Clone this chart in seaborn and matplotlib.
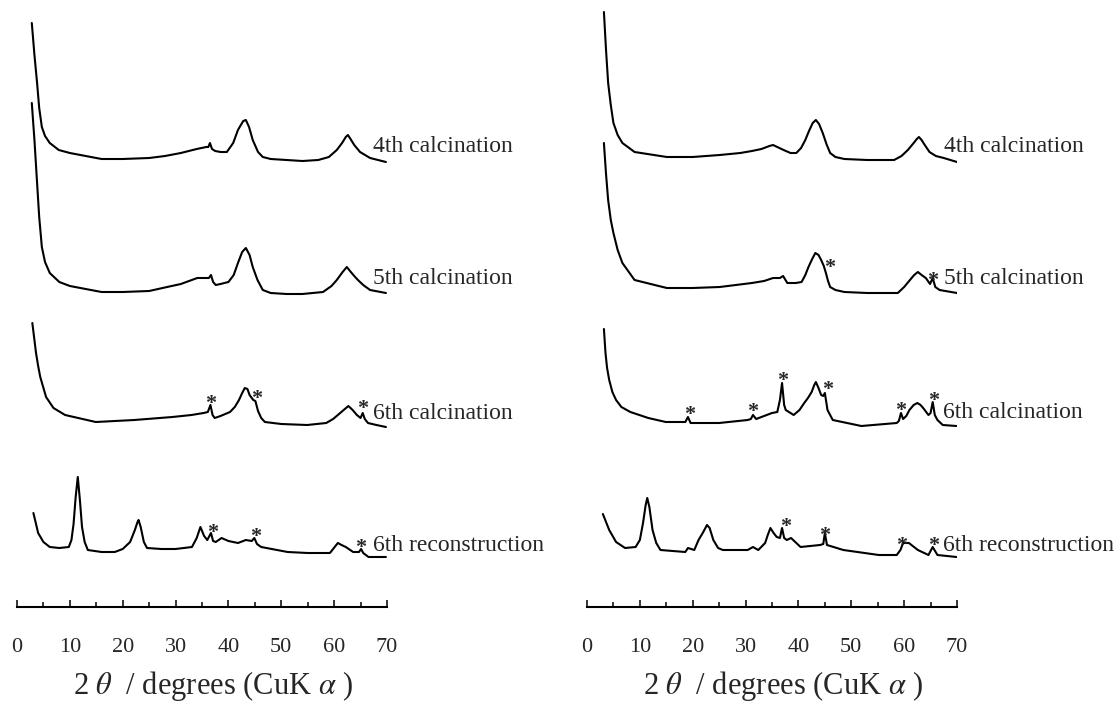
import numpy as np
import pandas as pd
import seaborn as sns
import matplotlib.pyplot as plt
from matplotlib.ticker import MultipleLocator

sns.set_style("white")
plt.rcParams["font.family"] = ["Liberation Serif", "DejaVu Serif"]
plt.rcParams["mathtext.fontset"] = "stix"

NAMES = ["4th calcination", "5th calcination", "6th calcination", "6th reconstruction"]
OFFSETS = [447, 315, 183, 55]          # stacking offset of each pattern (a.u.)
XTICKS = [0, 10, 20, 30, 40, 50, 60, 70]

# ---------------- left panel (2theta, intensity a.u.) ----------------
L4_TH = [2.8, 3.3, 3.8, 4.2, 4.7, 5.3, 6.2, 7.9, 10, 13, 16, 20, 25, 28, 31, 34, 35.8, 36.2, 36.5, 36.9,
         37.5, 38.5, 39.7, 40.9, 41.8, 42.8, 43.3, 43.9, 44.6, 45.6, 46.5, 48, 51, 54, 57, 59, 60.5, 61.5,
         62.2, 62.6, 63.1, 63.8, 64.9, 66.8, 69.8]
L4_I = [137, 105, 77, 52, 33, 24, 17, 10, 7, 4, 1, 1, 2, 4, 7, 11, 13, 13, 17, 11,
        9, 8, 8, 17, 30, 39, 40, 33, 20, 8, 3, 1, 0, -1, 0, 3, 10, 17,
        23, 25, 21, 15, 8, 2, -2]

L5_TH = [2.8, 3.3, 3.8, 4.2, 4.7, 5.3, 6.2, 8, 10, 13, 16, 20, 25, 28.4, 31, 34.1, 35.8, 36.3, 36.7, 37.1,
         37.6, 38.5, 40.0, 41.0, 41.8, 42.6, 43.3, 44.0, 44.6, 45.5, 46.5, 48, 51, 54, 57.9, 59.5, 60.5,
         61.6, 62.4, 63.0, 63.8, 64.5, 65.5, 66.8, 69.8]
L5_I = [189, 152, 109, 75, 45, 30, 19, 10, 6, 3, 0, 0, 1, 5, 8, 14, 14, 14, 17, 10,
        7, 8, 10, 17, 29, 40, 44, 37, 25, 12, 2, -1, -2, -2, 0, 6, 12,
        20, 25, 21, 16, 12, 7, 2, -1]

L6C_TH = [2.9, 3.6, 4.0, 4.4, 5.5, 6.9, 9.1, 14.9, 22.2, 29.4, 33, 35.3, 36.1, 36.6, 37.0, 37.4, 38.5,
          40.3, 41.2, 42.0, 42.6, 43.1, 43.6, 44.0, 44.7, 45.1, 45.6, 46.2, 46.9, 50, 54.9, 58.5, 59.8,
          60.7, 61.8, 62.7, 63.5, 64.3, 65.0, 65.4, 65.8, 66.4, 68, 69.8]
L6C_I = [101, 71, 58, 47, 27, 16, 9, 2, 4, 7, 9, 11, 12, 19, 9, 6, 8,
         12, 17, 24, 31, 36, 35, 29, 24, 23, 13, 6, 2, 0, -1, 1, 5,
         9, 14, 18, 14, 9, 6, 11, 5, 1, -1, -3]

L6R_TH = [3.1, 3.6, 4, 5, 6.2, 8, 9.8, 10.3, 10.7, 11.1, 11.5, 11.9, 12.3, 12.8, 13.4, 16, 18.5, 20,
          21.4, 22.3, 22.8, 23.0, 23.4, 24.0, 24.6, 27.3, 30, 33.1, 34, 34.7, 35.4, 36, 36.7, 37.1, 37.6,
          38.7, 40, 41.8, 43.3, 44.4, 44.9, 45.4, 46.2, 51.2, 55, 59.2, 60.1, 60.7, 61.4, 62.2, 63.6,
          64.7, 65.1, 65.5, 66.5, 69.8]
L6R_I = [39, 28, 19, 10, 5, 4, 5, 12, 28, 55, 75, 52, 25, 10, 2, 0, 0, 3,
         10, 22, 30, 32, 25, 10, 4, 3, 3, 5, 14, 25, 16, 12, 19, 11, 10,
         14, 11, 9, 12, 11, 14, 8, 5, 0, -1, -1, 5, 9, 7, 5, 0,
         0, 3, -1, -5, -5]

# ---------------- right panel ----------------
R4_TH = [3.2, 3.6, 4.0, 4.5, 5.0, 5.8, 6.7, 9.0, 15.1, 20, 25.1, 29, 31.2, 33, 34.5, 35.2, 36.0, 37.2,
         38.5, 39.6, 40.5, 41.3, 42.0, 42.7, 43.3, 43.9, 44.6, 45.3, 46.0, 47, 48.7, 53, 58.1, 59.5,
         60.7, 61.8, 62.4, 62.8, 63.3, 63.9, 64.8, 66, 67.5, 70.0]
R4_I = [148, 110, 77, 55, 37, 25, 17, 8, 3, 3, 5, 7, 9, 11, 14, 15, 13, 10,
        7, 7, 12, 20, 29, 37, 40, 36, 27, 16, 7, 3, 1, 0, 0, 4,
        10, 17, 21, 23, 20, 15, 8, 4, 2, -2]

R5_TH = [3.2, 3.6, 4.0, 4.5, 5.0, 5.8, 6.7, 9.0, 15.1, 20, 25.1, 31.2, 33.5, 35.2, 36.5, 37.1, 37.9,
         39.5, 40.6, 41.3, 41.9, 42.6, 43.2, 43.8, 44.3, 44.8, 45.2, 45.6, 46.0, 47, 48.7, 53, 58.8,
         60.0, 61.1, 61.9, 62.6, 63.3, 64.1, 64.9, 65.4, 65.9, 66.7, 70.0]
R5_I = [149, 118, 92, 72, 59, 42, 29, 12, 4, 4, 5, 9, 11, 14, 14, 16, 9,
        9, 10, 17, 25, 33, 39, 37, 32, 26, 19, 11, 5, 2, 0, -1, -1,
        5, 12, 17, 20, 17, 14, 8, 14, 5, 2, -1]

R6C_TH = [3.2, 3.5, 3.8, 4.2, 4.8, 5.5, 6.5, 8.2, 11.6, 14.9, 18.6, 19.1, 19.6, 25, 30.4, 31.0, 31.4,
          32, 35, 36, 36.5, 36.9, 37.3, 37.6, 39.1, 40.2, 41.1, 41.8, 42.5, 43.0, 43.3, 43.8, 44.3,
          44.7, 45.0, 45.5, 46.5, 51.9, 58.6, 59.0, 59.4, 59.8, 60.4, 61.0, 61.8, 62.5, 63.1, 63.6,
          64.6, 65.0, 65.4, 65.8, 66.3, 67.3, 69.9]
R6C_I = [95, 71, 56, 44, 32, 24, 17, 12, 6, 2, 2, 7, 1, 1, 4, 5, 9,
         5, 11, 12, 24, 41, 19, 14, 9, 14, 21, 26, 32, 39, 42, 36, 29,
         28, 31, 14, 4, -2, 1, 3, 11, 5, 8, 14, 19, 21, 19, 16,
         9, 11, 22, 9, 4, -1, -2]

R6R_TH = [3.0, 3.6, 4.2, 5.5, 7.2, 9.2, 10.0, 10.6, 11.1, 11.4, 11.8, 12.4, 13.1, 13.9, 18.6, 19.1,
          20.3, 21.1, 22.0, 22.7, 23.2, 23.9, 24.8, 25.7, 30.4, 31.4, 32.4, 33.7, 34.2, 34.7, 35.3,
          35.9, 36.5, 36.9, 37.3, 37.8, 38.6, 40.4, 44.1, 44.7, 45, 45.4, 48.5, 55.2, 58.6, 59.3,
          59.8, 60.9, 62.6, 64.6, 65.4, 66.3, 69.9]
R6R_I = [38, 30, 22, 10, 4, 5, 12, 29, 47, 54, 45, 22, 9, 2, 0, 4,
         2, 12, 20, 27, 24, 12, 4, 2, 2, 5, 2, 9, 17, 24, 19,
         15, 14, 24, 14, 12, 14, 5, 7, 8, 19, 7, 2, -3, -3, 2,
         9, 9, 2, -3, 5, -3, -5]

# asterisk markers (2theta, intensity a.u.)
L6C_STAR_TH, L6C_STAR_I = [36.6, 45.3, 65.4], [28, 33, 23]
L6R_STAR_TH, L6R_STAR_I = [37.1, 45.1, 65.1], [27, 23, 12]
R5_STAR_TH, R5_STAR_I = [45.9, 65.3], [32, 19]
R6C_STAR_TH, R6C_STAR_I = [19.4, 31.4, 37.0, 45.5, 59.4, 65.6], [17, 20, 51, 42, 21, 31]
R6R_STAR_TH, R6R_STAR_I = [37.5, 45.0, 59.6, 65.6], [33, 24, 14, 14]

panels = [
    {"traces": [(L4_TH, L4_I), (L5_TH, L5_I), (L6C_TH, L6C_I), (L6R_TH, L6R_I)],
     "stars": [([], []), ([], []), (L6C_STAR_TH, L6C_STAR_I), (L6R_STAR_TH, L6R_STAR_I)]},
    {"traces": [(R4_TH, R4_I), (R5_TH, R5_I), (R6C_TH, R6C_I), (R6R_TH, R6R_I)],
     "stars": [([], []), (R5_STAR_TH, R5_STAR_I), (R6C_STAR_TH, R6C_STAR_I), (R6R_STAR_TH, R6R_STAR_I)]},
]

W, H = 1117, 705
fig = plt.figure(figsize=(W / 100, H / 100), dpi=100)
ruler_y = 607
lefts = [17, 587]
label_dy = [11.5, 10.5, 10, 8.5]

for p, left in zip(panels, lefts):
    ax = fig.add_axes([left / W, (H - ruler_y) / H, 370 / W, ruler_y / H])
    for k, ((th, inten), (sth, sint)) in enumerate(zip(p["traces"], p["stars"])):
        df = pd.DataFrame({"theta": th, "I": np.array(inten) + OFFSETS[k]})
        sns.lineplot(data=df, x="theta", y="I", ax=ax, color="black", lw=1.5,
                     errorbar=None, sort=False)
        for sx, sy in zip(sth, sint):
            ax.annotate("*", (sx, sy + OFFSETS[k]), xytext=(0, -9.5), textcoords="offset points",
                        ha="center", va="baseline", fontsize=16, fontweight="bold")
        ax.annotate(NAMES[k], (th[-1], inten[-1] + OFFSETS[k]), xytext=(-9.5, label_dy[k]),
                    textcoords="offset points", ha="left", va="center", fontsize=17)
    ax.set_xlim(0, 70)
    ax.set_ylim(0, ruler_y)
    ax.set_yticks([])
    ax.set_ylabel("")
    for s in ["top", "left", "right"]:
        ax.spines[s].set_visible(False)
    ax.spines["bottom"].set_linewidth(1.5)
    ax.spines["bottom"].set_color("black")
    ax.set_xticks(XTICKS)
    ax.xaxis.set_minor_locator(MultipleLocator(5))
    ax.tick_params(axis="x", which="major", direction="in", length=5.2, width=1.1,
                   labelsize=16, pad=22, color="black", bottom=True)
    ax.tick_params(axis="x", which="minor", direction="in", length=3.6, width=1.1,
                   color="black", bottom=True)
    ax.set_xlabel("2 $\\theta$  / degrees (CuK $\\alpha$ )", fontsize=22)
    ax.xaxis.label.set_va("center")
    ax.xaxis.set_label_coords(0.53, -79 / ruler_y)
    ax.patch.set_alpha(0)

fig.savefig("out.png", dpi=100)
